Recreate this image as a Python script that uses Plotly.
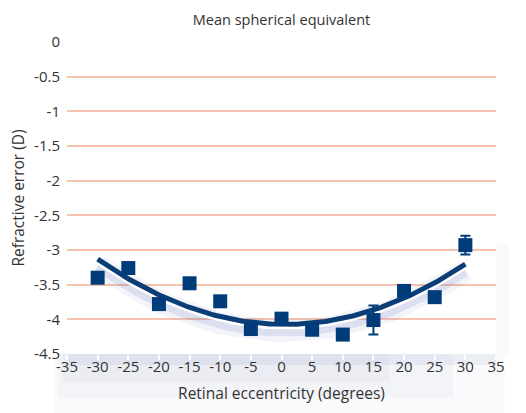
import numpy as np
import plotly.graph_objects as go

# Data
eccentricity = [-30, -25, -20, -15, -10, -5, 0, 5, 10, 15, 20, 25, 30]
refraction = [-3.40, -3.26, -3.78, -3.48, -3.74, -4.14, -3.99, -4.15, -4.22, -4.01, -3.59, -3.68, -2.93]
error = [0, 0, 0, 0, 0, 0, 0, 0, 0, 0.21, 0, 0, 0.135]
x_ticks = list(range(-35, 40, 5))
y_ticks = [0, -0.5, -1, -1.5, -2, -2.5, -3, -3.5, -4, -4.5]

# Polynomial (order 2) trendline fitted from the data
coef = np.polyfit(eccentricity, refraction, 2)
xfit = np.linspace(min(eccentricity), max(eccentricity), 200)
yfit = np.polyval(coef, xfit)

FONT = "Open Sans"
DARK = "#003c7a"

fig = go.Figure()

# invisible anchor trace on the main axes
fig.add_trace(go.Scatter(x=eccentricity, y=refraction, mode="markers",
                         marker=dict(opacity=0), hoverinfo="skip", showlegend=False))

# shadow / highlight layers for the trendline (offset axes)
fig.add_trace(go.Scatter(x=xfit, y=yfit, mode="lines", yaxis="y2",
                         line=dict(color="rgba(80,100,180,0.07)", width=22),
                         hoverinfo="skip", showlegend=False))
fig.add_trace(go.Scatter(x=xfit, y=yfit, mode="lines", yaxis="y2",
                         line=dict(color="rgba(80,100,180,0.14)", width=11),
                         hoverinfo="skip", showlegend=False))
fig.add_trace(go.Scatter(x=xfit, y=yfit, mode="lines", yaxis="y3",
                         line=dict(color="white", width=7),
                         hoverinfo="skip", showlegend=False))
fig.add_trace(go.Scatter(x=xfit, y=yfit, mode="lines", yaxis="y4",
                         line=dict(color="#0b3d76", width=5),
                         hoverinfo="skip", showlegend=False))

fig.add_trace(go.Scatter(
    x=eccentricity, y=refraction, mode="markers", yaxis="y4",
    marker=dict(symbol="square", size=14, color=DARK),
    error_y=dict(type="data", array=error, visible=True, color=DARK,
                 thickness=2, width=5),
    showlegend=False))

shift_big = 0.10
shift_small = 0.025
shapes = []
# soft glow below the plot area
for (x0, x1, y0, a) in [(-0.03, 1.02, -0.19, 0.05), (-0.02, 0.9, -0.14, 0.07),
                        (-0.01, 0.75, -0.09, 0.09), (0.0, 1.0, -0.035, 0.14)]:
    shapes.append(dict(type="rect", xref="paper", yref="paper", x0=x0, x1=x1,
                       y0=y0, y1=0, fillcolor=f"rgba(150,165,205,{a})",
                       line=dict(width=0), layer="below"))
shapes.append(dict(type="rect", xref="paper", yref="paper", x0=1.0, x1=1.03,
                   y0=0.0, y1=0.35, fillcolor="rgba(150,165,205,0.07)",
                   line=dict(width=0), layer="below"))

fig.update_layout(
    width=526, height=413,
    margin=dict(l=67, r=30, t=42, b=59, autoexpand=False),
    paper_bgcolor="white", plot_bgcolor="white",
    font=dict(family=FONT, color="#333333", size=14),
    title=dict(text="Mean spherical equivalent", x=0.5, xref="paper", xanchor="center",
               y=0.952, yref="container", yanchor="middle", font=dict(size=14.5, color="#333333")),
    xaxis=dict(range=[-35, 35], tickvals=x_ticks, ticktext=[str(v) for v in x_ticks],
               showgrid=False, zeroline=False, showline=False, automargin=False,
               ticks="outside", ticklen=5, tickwidth=2, tickcolor="white",
               tickfont=dict(size=15), ticklabelstandoff=-6,
               title=dict(text="Retinal eccentricity (degrees)", font=dict(size=15.5), standoff=13)),
    yaxis=dict(range=[-4.5, 0], tickvals=y_ticks, ticktext=[str(v) for v in y_ticks],
               showgrid=True, gridcolor="#f8c3ae", gridwidth=2, zeroline=False,
               showline=False, ticks="", tickfont=dict(size=15), automargin=False,
               ticklabelstandoff=6,
               title=dict(text="Refractive error (D)", font=dict(size=15.5), standoff=5)),
    yaxis2=dict(range=[-4.5 + shift_big, 0 + shift_big], overlaying="y", visible=False),
    yaxis3=dict(range=[-4.5 + shift_small, 0 + shift_small], overlaying="y", visible=False),
    yaxis4=dict(range=[-4.5, 0], overlaying="y", visible=False),
    shapes=shapes,
)

fig.write_html("out.html", config={"displayModeBar": False},
               post_script="document.body.style.margin='0';document.body.style.overflow='hidden';")
